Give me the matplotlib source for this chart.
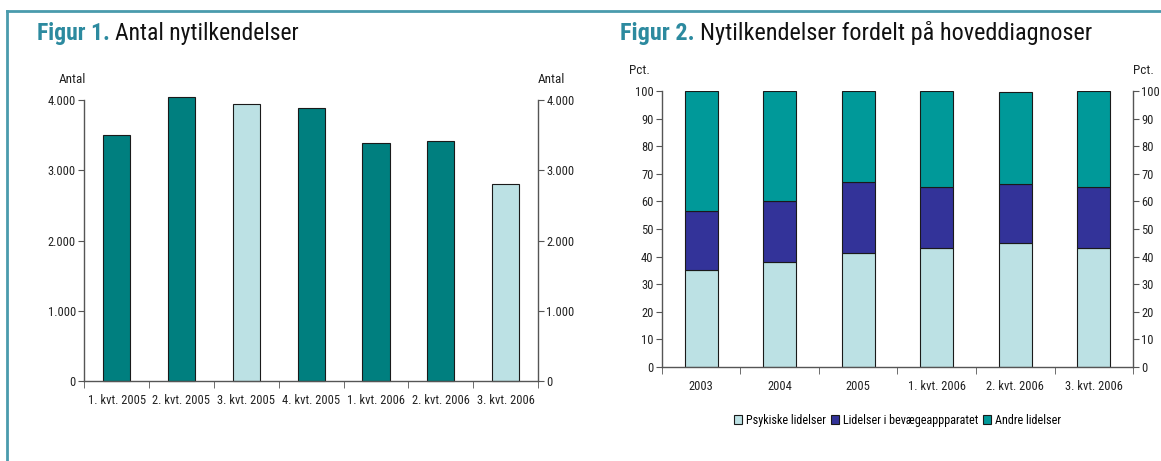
import matplotlib.pyplot as plt
from matplotlib.lines import Line2D
from matplotlib.patches import Patch
from matplotlib.ticker import FuncFormatter

plt.rcParams["font.family"] = ["Roboto Condensed", "Liberation Sans Narrow", "Liberation Sans", "DejaVu Sans"]

# Figur 1: antal nytilkendelser pr. kvartal
kvartaler = ["1. kvt. 2005", "2. kvt. 2005", "3. kvt. 2005", "4. kvt. 2005",
             "1. kvt. 2006", "2. kvt. 2006", "3. kvt. 2006"]
antal = [3505, 4040, 3940, 3880, 3385, 3410, 2810]
fremhaevet = [False, False, True, False, False, False, True]

# Figur 2: fordeling på hoveddiagnoser (pct.)
perioder = ["2003", "2004", "2005", "1. kvt. 2006", "2. kvt. 2006", "3. kvt. 2006"]
psykiske = [35.0, 38.0, 41.4, 43.0, 44.8, 43.0]
bevaege = [21.6, 22.0, 25.8, 22.3, 21.4, 22.3]
andre = [43.4, 40.0, 32.8, 34.7, 33.4, 34.7]
serier = ["Psykiske lidelser", "Lidelser i bevægeappparatet", "Andre lidelser"]

TEAL_DARK = "#007f7f"
TEAL_LIGHT = "#bce1e4"
NAVY = "#333399"
TEAL = "#009999"
FRAME = "#4a9bad"
EDGE = "#1a1a1a"
AXC = "#555555"
TXT = "#222222"

fig = plt.figure(figsize=(11.61, 4.61), dpi=100)

# ramme
fig.add_artist(Line2D([0.006, 1.0], [0.976, 0.976], color=FRAME, lw=2))
fig.add_artist(Line2D([0.006, 0.006], [0.0, 0.976], color=FRAME, lw=2))


def title(x, fig_no, text, size):
    t = fig.text(x, 0.928, fig_no, fontsize=size, fontweight="bold", color="#2c8a9f", va="center")
    r = fig.canvas.get_renderer()
    bb = t.get_window_extent(renderer=r)
    x2 = (bb.x1 + 5) / fig.bbox.width
    fig.text(x2, 0.928, text, fontsize=size, color="#111111", va="center")


title(0.032, "Figur 1.", "Antal nytilkendelser", 17)
title(0.534, "Figur 2.", "Nytilkendelser fordelt på hoveddiagnoser", 17.5)


def style_axes(ax):
    ax.spines["top"].set_visible(False)
    for s in ("left", "right", "bottom"):
        ax.spines[s].set_color(AXC)
        ax.spines[s].set_linewidth(1.0)
    ax.tick_params(axis="y", which="both", left=True, right=True, labelleft=True,
                   labelright=True, direction="out", length=4, color=AXC,
                   labelsize=9, labelcolor=TXT, pad=2)
    ax.tick_params(axis="x", which="major", length=0, labelsize=9,
                   labelcolor=TXT, pad=9)
    ax.tick_params(axis="x", which="minor", length=5, direction="out", color=AXC)


# Figur 1
ax1 = fig.add_axes([0.0725, 0.1735, 0.391, 0.6095])
x1 = list(range(len(kvartaler)))
farver = [TEAL_LIGHT if f else TEAL_DARK for f in fremhaevet]
ax1.bar(x1, antal, width=0.42, color=farver, edgecolor=EDGE, linewidth=0.8, clip_on=False)
ax1.set_xlim(-0.5, len(kvartaler) - 0.5)
ax1.set_ylim(0, 4000)
ax1.set_yticks([0, 1000, 2000, 3000, 4000])
ax1.yaxis.set_major_formatter(FuncFormatter(lambda v, p: f"{int(v):,}".replace(",", ".")))
ax1.set_xticks(x1)
ax1.set_xticklabels(kvartaler)
ax1.set_xticks([i - 0.5 for i in range(len(kvartaler) + 1)], minor=True)
style_axes(ax1)
ax1.text(0.005, 1.05, "Antal", transform=ax1.transAxes, ha="right", va="bottom", fontsize=9.5, color=TXT)
ax1.text(1.0, 1.05, "Antal", transform=ax1.transAxes, ha="left", va="bottom", fontsize=9.5, color=TXT)

# Figur 2
ax2 = fig.add_axes([0.570, 0.2039, 0.406, 0.5987])
x2 = list(range(len(perioder)))
bund3 = [a + b for a, b in zip(psykiske, bevaege)]
kw = dict(width=0.42, edgecolor=EDGE, linewidth=0.8)
ax2.bar(x2, psykiske, color=TEAL_LIGHT, **kw)
ax2.bar(x2, bevaege, bottom=psykiske, color=NAVY, **kw)
ax2.bar(x2, andre, bottom=bund3, color=TEAL, **kw)
ax2.set_xlim(-0.5, len(perioder) - 0.5)
ax2.set_ylim(0, 100)
ax2.set_yticks(range(0, 101, 10))
ax2.set_xticks(x2)
ax2.set_xticklabels(perioder)
ax2.set_xticks([i - 0.5 for i in range(len(perioder) + 1)], minor=True)
style_axes(ax2)
ax2.text(-0.025, 1.05, "Pct.", transform=ax2.transAxes, ha="right", va="bottom", fontsize=9.5, color=TXT)
ax2.text(1.0, 1.05, "Pct.", transform=ax2.transAxes, ha="left", va="bottom", fontsize=9.5, color=TXT)

handles = [Patch(facecolor=c, edgecolor=EDGE, linewidth=0.8) for c in (TEAL_LIGHT, NAVY, TEAL)]
fig.legend(handles, serier, loc="center", bbox_to_anchor=(0.773, 0.088), ncol=3,
           frameon=False, fontsize=8.7, handlelength=0.7, handleheight=0.7,
           handletextpad=0.3, columnspacing=0.4)

fig.savefig("out.png", dpi=100)
